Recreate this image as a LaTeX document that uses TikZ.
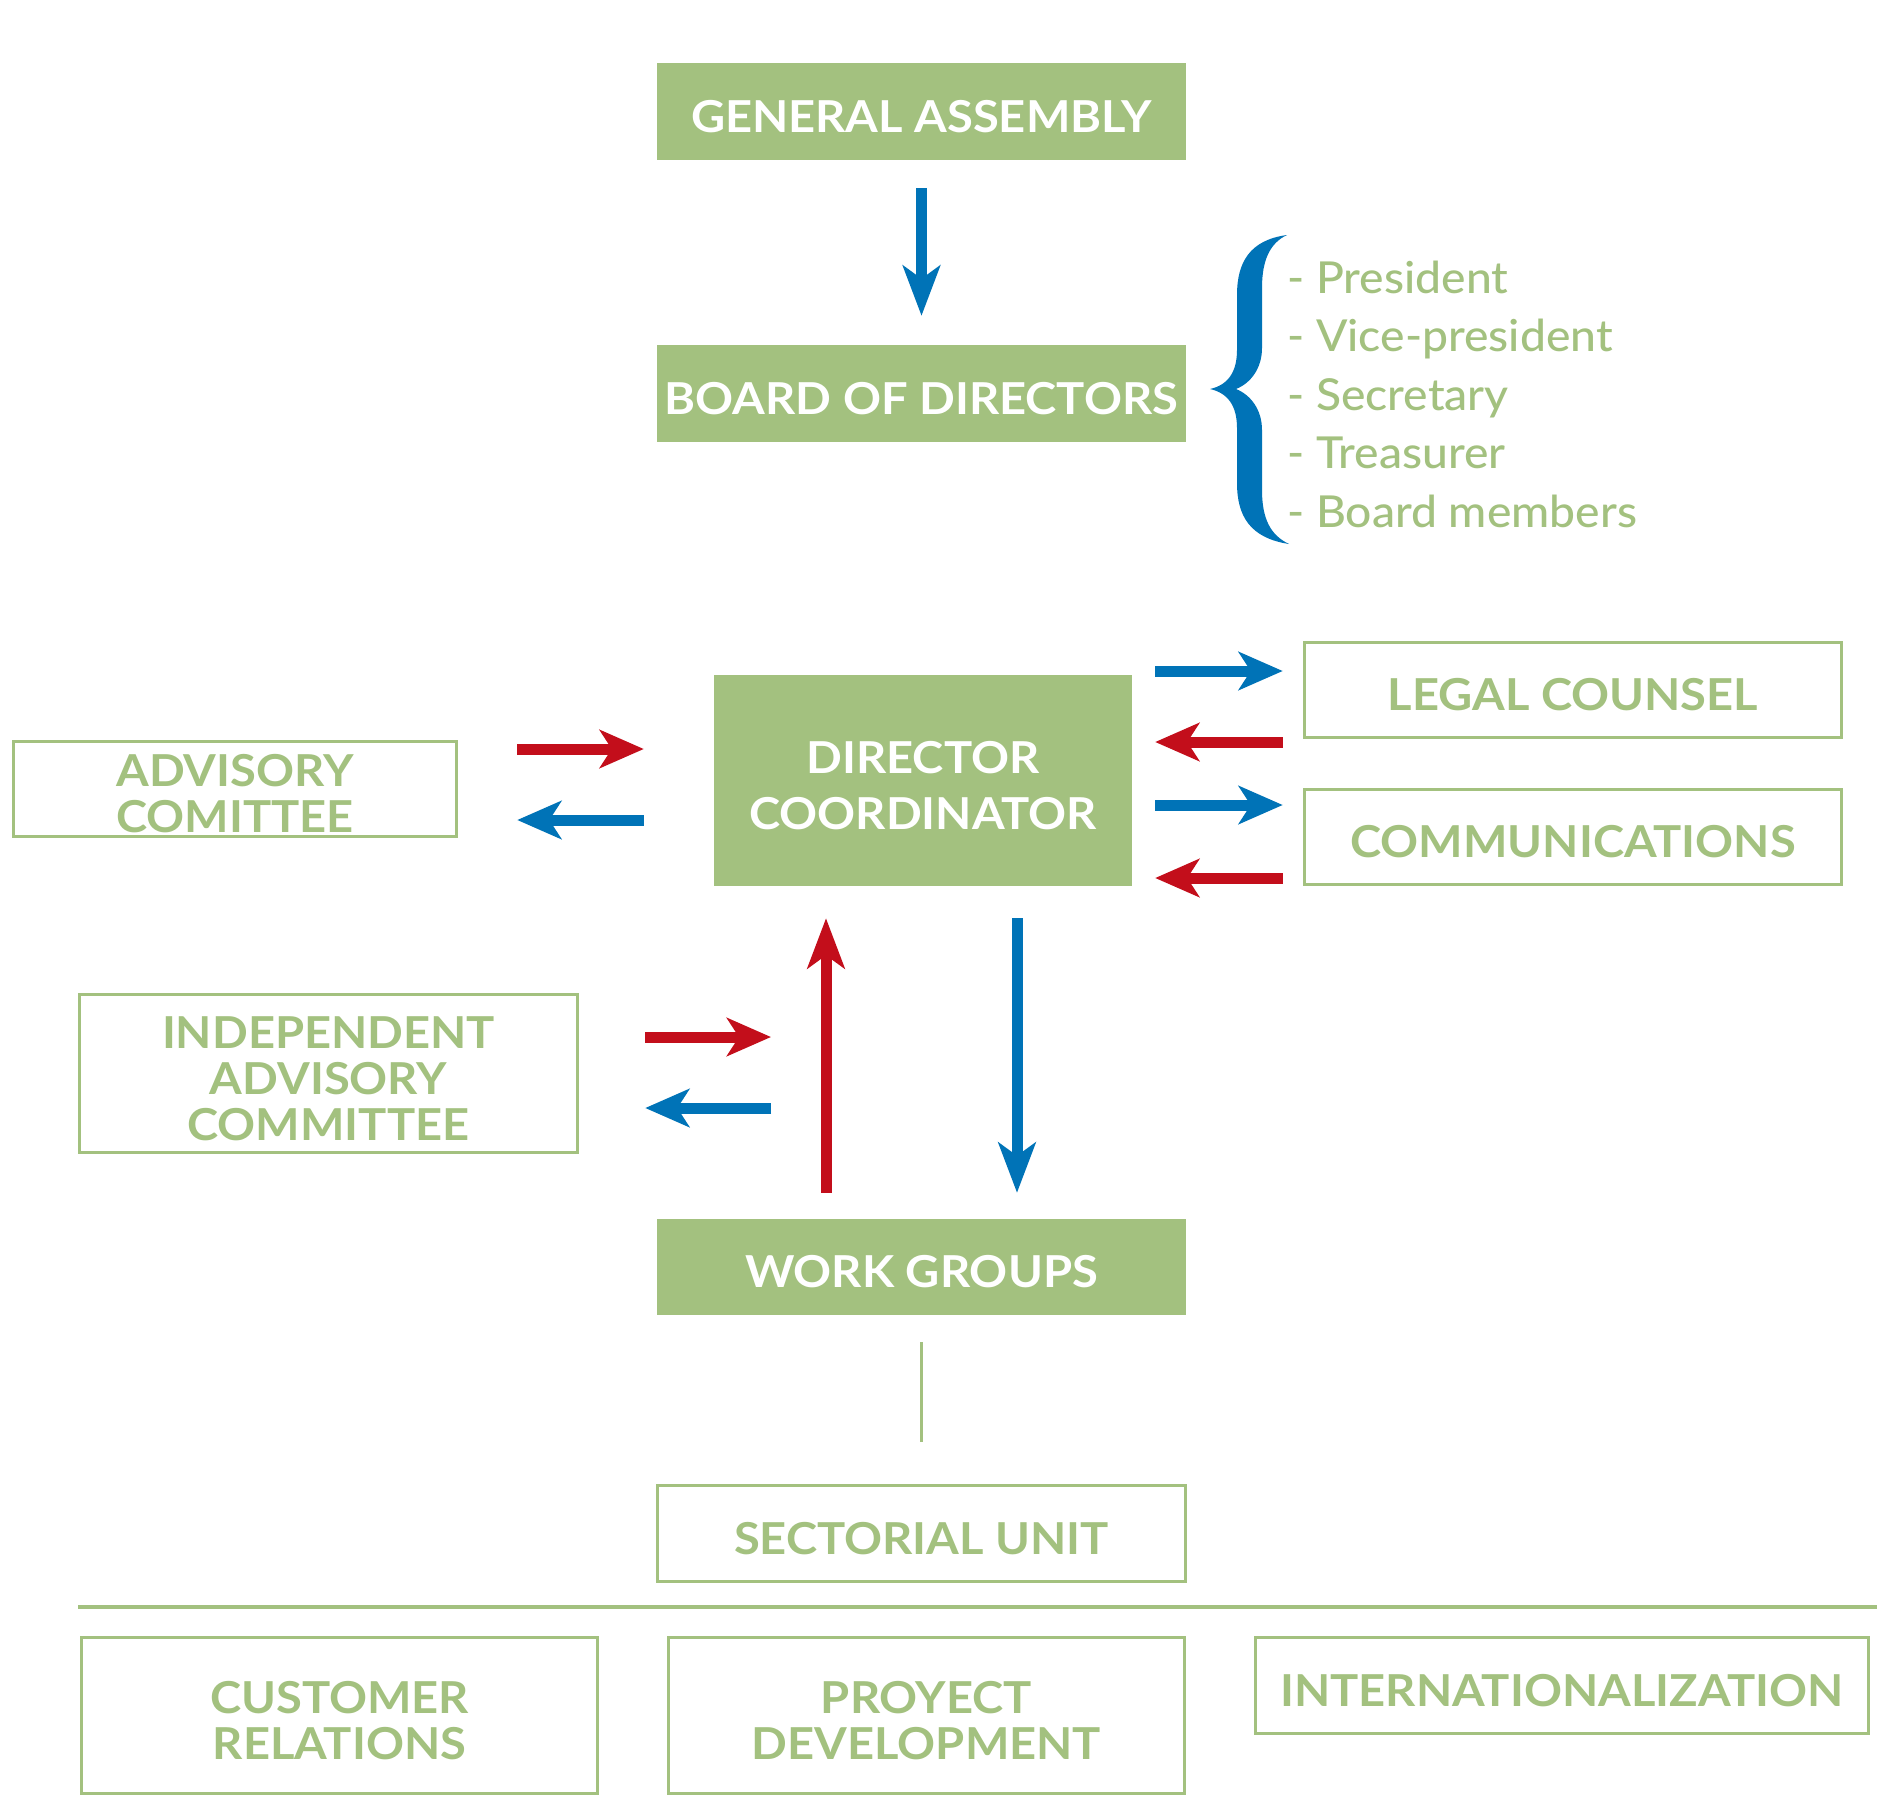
\documentclass[tikz,border=0pt]{standalone}
\usepackage{fontspec}
\setmainfont{Lato}
\newfontfamily\lblfam{Lato}[FakeStretch=1.07]
\IfFontExistsTF{Lato Medium}
  {\newfontfamily\listfam{Lato Medium}[FakeStretch=1.05]}
  {\newfontfamily\listfam{Lato}[FakeStretch=1.05]}
\usetikzlibrary{arrows.meta}
\definecolor{gr}{HTML}{A3C17F}
\definecolor{bl}{HTML}{0073B7}
\definecolor{rd}{HTML}{C30E1B}
\newcommand\lblfont{\lblfam\fontsize{44}{46}\selectfont\bfseries}
\newcommand\listfont{\listfam\fontsize{44}{58.5}\selectfont}
\begin{document}
\begin{tikzpicture}[x=1pt,y=-1pt,
  fillbox/.style={fill=gr, draw=none, text=white, font=\lblfont, align=center, inner sep=0pt, text height=41.5pt, text depth=0pt},
  linebox/.style={draw=gr, line width=3.5pt, fill=white, text=gr, font=\lblfont, align=center, inner sep=0pt, text height=41.5pt, text depth=0pt},
  harrowb/.style={draw=bl, line width=11pt, -{Stealth[length=44pt,width=38pt,inset=12pt]}},
  harrowr/.style={draw=rd, line width=11pt, -{Stealth[length=44pt,width=38pt,inset=12pt]}},
  varrowb/.style={draw=bl, line width=11pt, -{Stealth[length=50pt,width=37pt,inset=13pt]}},
  varrowr/.style={draw=rd, line width=11pt, -{Stealth[length=50pt,width=37pt,inset=13pt]}},
  gline/.style={draw=gr, line width=3pt}
]
\useasboundingbox (0,0) rectangle (1890,1808);
\fill[white] (0,0) rectangle (1890,1808);

% filled boxes
\node[fillbox, minimum width=529pt, minimum height=97pt] (ga) at (921.5,111.5) {GENERAL ASSEMBLY};
\node[fillbox, minimum width=529pt, minimum height=97pt] (bod) at (921.5,393.5) {BOARD OF DIRECTORS};
\node[fillbox, minimum width=418pt, minimum height=211pt, font=\lblfam\fontsize{44}{56}\selectfont\bfseries, text height=97.5pt] (dc) at (923,780.5) {DIRECTOR\\COORDINATOR};
\node[fillbox, minimum width=529pt, minimum height=96pt] (wg) at (921.5,1267) {WORK GROUPS};

% outline boxes
\node[linebox, minimum width=537pt, minimum height=95pt] (legal) at (1573,690) {LEGAL COUNSEL};
\node[linebox, minimum width=537pt, minimum height=95pt] (comm) at (1573,837) {COMMUNICATIONS};
\node[linebox, minimum width=443pt, minimum height=95pt, text height=87.5pt] (adv) at (235,789) {ADVISORY\\COMITTEE};
\node[linebox, minimum width=498pt, minimum height=158pt, text height=133.5pt] (iac) at (328.5,1073.5) {INDEPENDENT\\ADVISORY\\COMMITTEE};
\node[linebox, minimum width=528pt, minimum height=96pt] (su) at (921.5,1533.5) {SECTORIAL UNIT};
\node[linebox, minimum width=516pt, minimum height=156pt, text height=87.5pt] (cr) at (339.5,1715.5) {CUSTOMER\\RELATIONS};
\node[linebox, minimum width=516pt, minimum height=156pt, text height=87.5pt] (pd) at (926.5,1715.5) {PROYECT\\DEVELOPMENT};
\node[linebox, minimum width=613pt, minimum height=96pt] (intl) at (1562,1685.5) {INTERNATIONALIZATION};

% list of board members
\node[text=gr, font=\listfont, align=left, inner sep=0pt, anchor=west] (list) at (1287,394)
  {- President\\- Vice-president\\- Secretary\\- Treasurer\\- Board members};

% brace
\fill[bl] (1287,235) .. controls (1250,240) and (1237,262) .. (1237,295) -- (1237,350)
  .. controls (1237,372) and (1228,385) .. (1210,389)
  .. controls (1228,393) and (1237,406) .. (1237,428) -- (1237,483)
  .. controls (1237,516) and (1250,538) .. (1289,544)
  .. controls (1270,535) and (1262,518) .. (1262,490) -- (1262,430)
  .. controls (1262,410) and (1251,395) .. (1236,389)
  .. controls (1251,383) and (1262,368) .. (1262,348) -- (1262,288)
  .. controls (1262,260) and (1270,243) .. (1287,235) -- cycle;

% GA -> BOD
\draw[varrowb, shorten <=28pt, shorten >=29pt] (ga.south) -- (bod.north);

% advisory arrows
\draw[harrowr, shorten <=59pt, shorten >=70pt] (adv.east |- 0,749) -- (dc.west |- 0,749);
\draw[harrowb, shorten <=70pt, shorten >=59pt] (dc.west |- 0,820) -- (adv.east |- 0,820);

% legal / communications arrows
\draw[harrowb, shorten <=23pt, shorten >=20pt] (dc.east |- 0,671) -- (legal.west |- 0,671);
\draw[harrowr, shorten <=20pt, shorten >=23pt] (legal.west |- 0,742) -- (dc.east |- 0,742);
\draw[harrowb, shorten <=23pt, shorten >=20pt] (dc.east |- 0,805) -- (comm.west |- 0,805);
\draw[harrowr, shorten <=20pt, shorten >=23pt] (comm.west |- 0,878) -- (dc.east |- 0,878);

% independent advisory committee arrows
\coordinate (iacR) at (771,1037);
\coordinate (iacB) at (771,1108);
\draw[harrowr, shorten <=66pt] (iac.east |- iacR) -- (iacR);
\draw[harrowb, shorten >=66pt] (iacB) -- (iac.east |- iacB);

% DC <-> WG
\draw[varrowr, shorten <=26pt, shorten >=32pt] (wg.north -| 826,0) -- (dc.south -| 826,0);
\draw[varrowb, shorten <=32pt, shorten >=26pt] (dc.south -| 1017,0) -- (wg.north -| 1017,0);

% WG -- SU
\draw[gline, shorten <=27pt, shorten >=42pt] (wg.south) -- (su.north);

% divider
\coordinate (divL) at (78,1607);
\coordinate (divR) at (1877,1607);
\draw[draw=gr, line width=4pt] (divL) -- (divR);
\end{tikzpicture}
\end{document}
